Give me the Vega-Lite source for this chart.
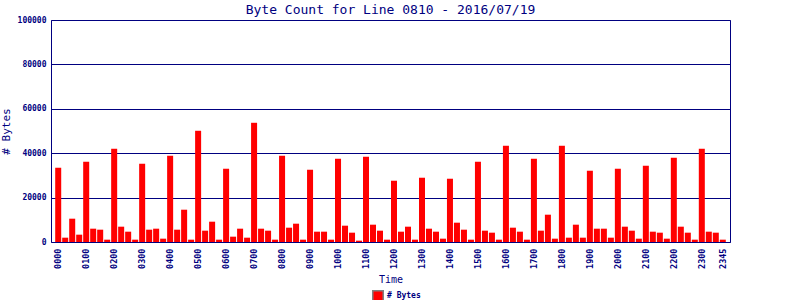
{
  "$schema": "https://vega.github.io/schema/vega-lite/v6.json",
  "autosize": "none",
  "width": 679,
  "height": 222,
  "padding": {"left": 51, "top": 20, "right": 70, "bottom": 58},
  "background": "white",
  "title": {
    "text": "Byte Count for Line 0810 - 2016/07/19",
    "font": "DejaVu Sans Mono",
    "fontSize": 13,
    "fontWeight": "normal",
    "color": "#000080",
    "anchor": "middle",
    "offset": 5,
    "dy": 6
  },
  "config": {
    "view": {"stroke": "#000080", "strokeWidth": 1}
  },
  "data": {
    "values": [
      {"t": "0000", "bytes": 33450}, {"t": "0015", "bytes": 1950}, {"t": "0030", "bytes": 10500}, {"t": "0045", "bytes": 3300},
      {"t": "0100", "bytes": 36150}, {"t": "0115", "bytes": 6000}, {"t": "0130", "bytes": 5550}, {"t": "0145", "bytes": 1050},
      {"t": "0200", "bytes": 42000}, {"t": "0215", "bytes": 6900}, {"t": "0230", "bytes": 4650}, {"t": "0245", "bytes": 1050},
      {"t": "0300", "bytes": 35250}, {"t": "0315", "bytes": 5550}, {"t": "0330", "bytes": 6000}, {"t": "0345", "bytes": 1500},
      {"t": "0400", "bytes": 38850}, {"t": "0415", "bytes": 5550}, {"t": "0430", "bytes": 14550}, {"t": "0445", "bytes": 1050},
      {"t": "0500", "bytes": 50100}, {"t": "0515", "bytes": 5100}, {"t": "0530", "bytes": 9150}, {"t": "0545", "bytes": 1050},
      {"t": "0600", "bytes": 33000}, {"t": "0615", "bytes": 2400}, {"t": "0630", "bytes": 6000}, {"t": "0645", "bytes": 1950},
      {"t": "0700", "bytes": 53700}, {"t": "0715", "bytes": 6000}, {"t": "0730", "bytes": 5100}, {"t": "0745", "bytes": 1050},
      {"t": "0800", "bytes": 38850}, {"t": "0815", "bytes": 6450}, {"t": "0830", "bytes": 8250}, {"t": "0845", "bytes": 1050},
      {"t": "0900", "bytes": 32550}, {"t": "0915", "bytes": 4650}, {"t": "0930", "bytes": 4650}, {"t": "0945", "bytes": 1050},
      {"t": "1000", "bytes": 37500}, {"t": "1015", "bytes": 7350}, {"t": "1030", "bytes": 4200}, {"t": "1045", "bytes": 600},
      {"t": "1100", "bytes": 38400}, {"t": "1115", "bytes": 7800}, {"t": "1130", "bytes": 5100}, {"t": "1145", "bytes": 1050},
      {"t": "1200", "bytes": 27600}, {"t": "1215", "bytes": 4650}, {"t": "1230", "bytes": 6900}, {"t": "1245", "bytes": 1050},
      {"t": "1300", "bytes": 28950}, {"t": "1315", "bytes": 6000}, {"t": "1330", "bytes": 4650}, {"t": "1345", "bytes": 1500},
      {"t": "1400", "bytes": 28500}, {"t": "1415", "bytes": 8700}, {"t": "1430", "bytes": 5550}, {"t": "1445", "bytes": 1050},
      {"t": "1500", "bytes": 36150}, {"t": "1515", "bytes": 5100}, {"t": "1530", "bytes": 4200}, {"t": "1545", "bytes": 1050},
      {"t": "1600", "bytes": 43350}, {"t": "1615", "bytes": 6450}, {"t": "1630", "bytes": 4650}, {"t": "1645", "bytes": 1050},
      {"t": "1700", "bytes": 37500}, {"t": "1715", "bytes": 5100}, {"t": "1730", "bytes": 12300}, {"t": "1745", "bytes": 1500},
      {"t": "1800", "bytes": 43350}, {"t": "1815", "bytes": 1950}, {"t": "1830", "bytes": 7800}, {"t": "1845", "bytes": 1950},
      {"t": "1900", "bytes": 32100}, {"t": "1915", "bytes": 6000}, {"t": "1930", "bytes": 6000}, {"t": "1945", "bytes": 1950},
      {"t": "2000", "bytes": 33000}, {"t": "2015", "bytes": 6900}, {"t": "2030", "bytes": 5100}, {"t": "2045", "bytes": 1500},
      {"t": "2100", "bytes": 34350}, {"t": "2115", "bytes": 4650}, {"t": "2130", "bytes": 4200}, {"t": "2145", "bytes": 1500},
      {"t": "2200", "bytes": 37950}, {"t": "2215", "bytes": 6900}, {"t": "2230", "bytes": 4200}, {"t": "2245", "bytes": 1050},
      {"t": "2300", "bytes": 42000}, {"t": "2315", "bytes": 4650}, {"t": "2330", "bytes": 4200}, {"t": "2345", "bytes": 1050}
    ]
  },
  "mark": {"type": "bar"},
  "encoding": {
    "x": {
      "field": "t",
      "type": "ordinal",
      "sort": null,
      "scale": {"paddingInner": 0.14, "paddingOuter": 0.6},
      "axis": {
        "title": "Time",
        "titleFont": "DejaVu Sans Mono",
        "titleFontSize": 10,
        "titleFontWeight": "normal",
        "titleColor": "#000080",
        "titlePadding": 6,
        "labelAngle": -90,
        "labelFont": "DejaVu Sans Mono",
        "labelFontSize": 8.5,
        "labelFontWeight": "bold",
        "labelColor": "#000080",
        "labelPadding": 6,
        "labelExpr": "(substring(datum.value, 2, 4) == '00' || datum.value == '2345') ? datum.value : ''",
        "labelOverlap": false,
        "ticks": false,
        "domain": false,
        "grid": false
      }
    },
    "y": {
      "field": "bytes",
      "type": "quantitative",
      "scale": {"domain": [0, 100000], "nice": false},
      "axis": {
        "title": "# Bytes",
        "titleFont": "DejaVu Sans Mono",
        "titleFontSize": 11,
        "titleFontWeight": "normal",
        "titleColor": "#000080",
        "titlePadding": 6,
        "values": [0, 20000, 40000, 60000, 80000, 100000],
        "format": "d",
        "labelFont": "DejaVu Sans Mono",
        "labelFontSize": 8,
        "labelFontWeight": "bold",
        "labelColor": "#000080",
        "labelPadding": 5,
        "ticks": false,
        "domain": false,
        "grid": true,
        "gridColor": "#000080",
        "gridOpacity": 1,
        "gridWidth": 1
      }
    },
    "color": {
      "datum": "# Bytes",
      "type": "nominal",
      "scale": {"range": ["#ff0000"]},
      "legend": {
        "title": null,
        "orient": "none",
        "legendX": 321,
        "legendY": 270,
        "symbolType": "square",
        "symbolSize": 110,
        "symbolStrokeColor": "#808080",
        "symbolStrokeWidth": 1.5,
        "symbolOpacity": 1,
        "labelFont": "DejaVu Sans Mono",
        "labelFontSize": 8,
        "labelFontWeight": "bold",
        "labelColor": "#000080",
        "labelOffset": 3
      }
    }
  }
}
